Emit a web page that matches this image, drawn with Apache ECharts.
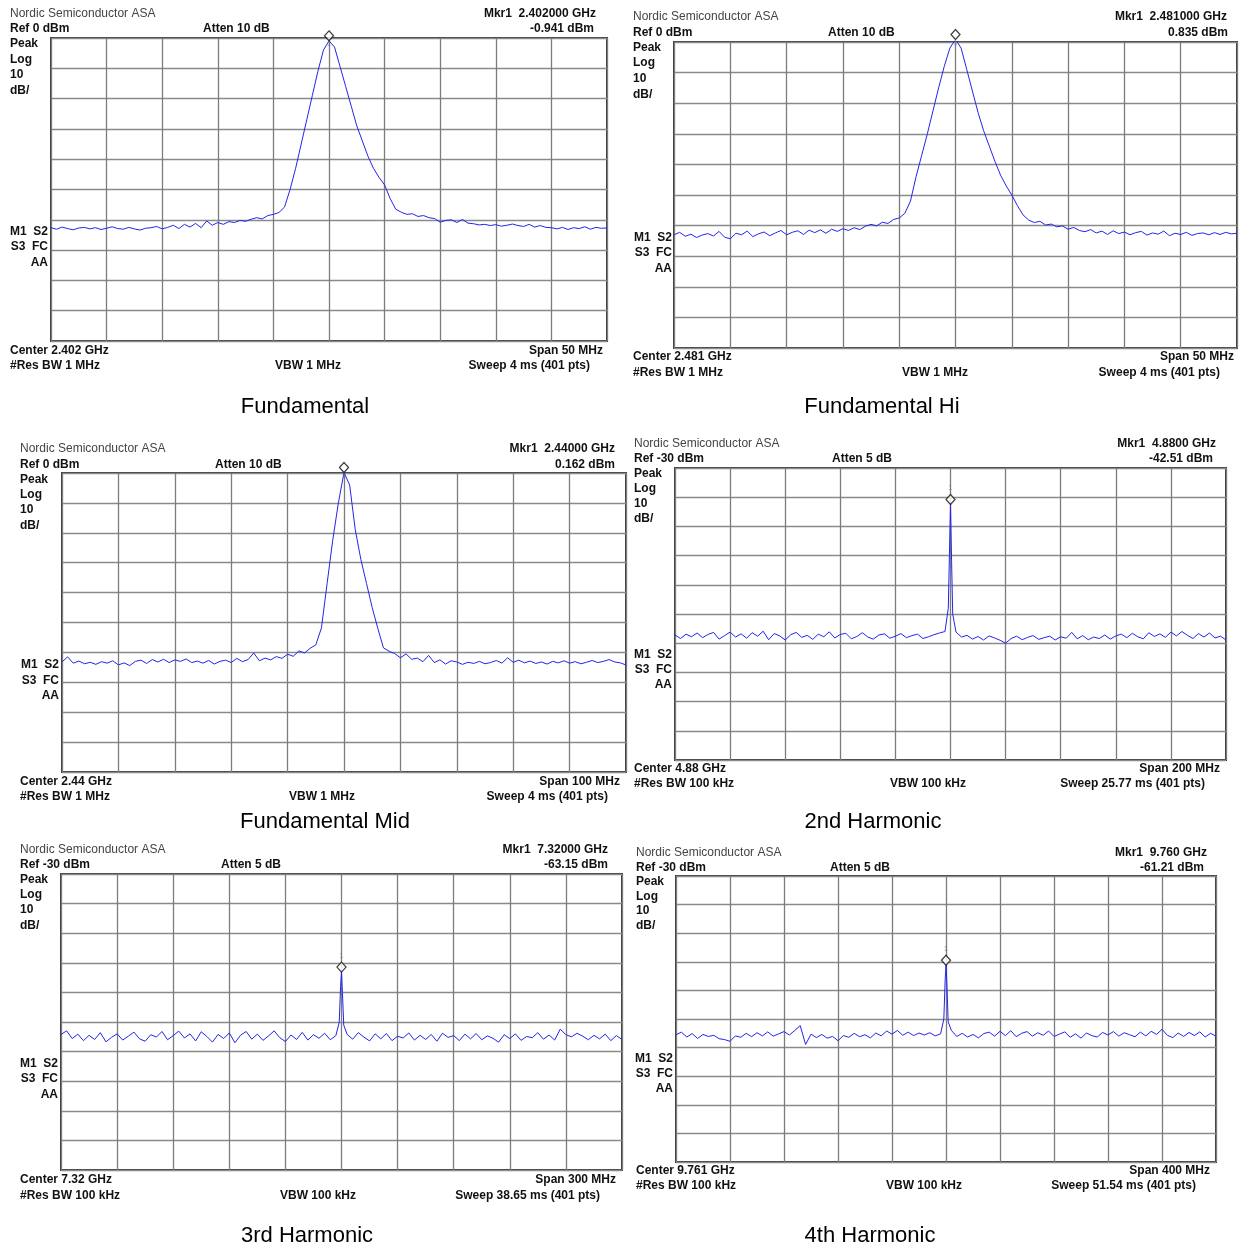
<!DOCTYPE html>
<html><head><meta charset="utf-8">
<script src="https://cdn.jsdelivr.net/npm/echarts@6/dist/echarts.min.js"></script>
<style>html,body{margin:0;padding:0;background:#fff;}#chart{width:1239px;height:1247px;}</style>
</head><body><div id="chart"></div>
<script>
// ---------- DATA ----------
const panelTitles = ['Fundamental','Fundamental Hi','Fundamental Mid','2nd Harmonic','3rd Harmonic','4th Harmonic'];
const companyLabel = 'Nordic Semiconductor ASA';
const refLevels = [0, 0, 0, -30, -30, -30];
const refLabels = ['Ref 0 dBm','Ref 0 dBm','Ref 0 dBm','Ref -30 dBm','Ref -30 dBm','Ref -30 dBm'];
const attenLabels = ['Atten 10 dB','Atten 10 dB','Atten 10 dB','Atten 5 dB','Atten 5 dB','Atten 5 dB'];
const markerFreqLabels = ['Mkr1  2.402000 GHz','Mkr1  2.481000 GHz','Mkr1  2.44000 GHz','Mkr1  4.8800 GHz','Mkr1  7.32000 GHz','Mkr1  9.760 GHz'];
const markerLevels = [-0.941, 0.835, 0.162, -42.51, -63.15, -61.21];
const markerLevelLabels = ['-0.941 dBm','0.835 dBm','0.162 dBm','-42.51 dBm','-63.15 dBm','-61.21 dBm'];
const leftLabels = ['Peak','Log','10','dB/'];
const statusLabels = ['M1  S2','S3  FC','AA'];
const centerLabels = ['Center 2.402 GHz','Center 2.481 GHz','Center 2.44 GHz','Center 4.88 GHz','Center 7.32 GHz','Center 9.761 GHz'];
const spansMHz = [50, 50, 100, 200, 300, 400];
const spanLabels = ['Span 50 MHz','Span 50 MHz','Span 100 MHz','Span 200 MHz','Span 300 MHz','Span 400 MHz'];
const rbwLabels = ['#Res BW 1 MHz','#Res BW 1 MHz','#Res BW 1 MHz','#Res BW 100 kHz','#Res BW 100 kHz','#Res BW 100 kHz'];
const vbwLabels = ['VBW 1 MHz','VBW 1 MHz','VBW 1 MHz','VBW 100 kHz','VBW 100 kHz','VBW 100 kHz'];
const sweepLabels = ['Sweep 4 ms (401 pts)','Sweep 4 ms (401 pts)','Sweep 4 ms (401 pts)','Sweep 25.77 ms (401 pts)','Sweep 38.65 ms (401 pts)','Sweep 51.54 ms (401 pts)'];
const dbPerDiv = 10;

// trace levels (dBm), 101 points evenly across the span
const traceFundamental = [-62.6,-63.1,-62.4,-62.9,-63.3,-62.7,-62.5,-63.0,-62.6,-63.2,-62.8,-62.3,-62.9,-63.1,-62.5,-63.0,-63.4,-62.8,-62.6,-62.2,-63.0,-62.5,-61.8,-62.9,-61.5,-62.4,-61.2,-62.6,-60.4,-61.8,-60.9,-61.5,-60.6,-60.9,-60.2,-60.5,-59.8,-59.3,-59.7,-58.6,-58.2,-57.6,-55.8,-50,-43,-35,-27,-19,-11,-4,-0.941,-3,-9.5,-16,-22.5,-29,-34,-39,-43,-46,-48.5,-53,-56.5,-57.5,-58.2,-58.0,-58.9,-58.6,-59.3,-59.6,-60.8,-60.2,-60.0,-60.9,-59.9,-61.1,-61.3,-61.7,-61.5,-61.9,-61.6,-62.1,-61.8,-61.4,-61.9,-62.2,-61.5,-62.4,-61.9,-62.5,-62.6,-63.0,-62.5,-63.2,-62.6,-62.9,-62.3,-63.1,-62.5,-62.8,-62.7];
const traceFundamentalHi = [-63.0,-62.2,-63.5,-62.8,-63.9,-63.1,-62.6,-63.4,-61.9,-63.8,-64.3,-62.5,-63.0,-61.8,-63.6,-62.7,-62.1,-63.3,-62.4,-61.6,-63.0,-62.2,-61.7,-62.9,-61.5,-62.3,-61.4,-62.5,-61.2,-61.9,-61.0,-61.6,-60.7,-61.3,-60.2,-59.6,-60.1,-58.9,-59.3,-58.0,-57.5,-56.0,-52,-44,-37,-30,-22.5,-15,-8,-2,0.835,-2,-9,-16,-23,-29,-34,-39,-43.5,-47,-50,-53.5,-56.5,-58.2,-59.0,-58.6,-59.8,-59.5,-60.4,-60.1,-61.2,-60.6,-61.6,-62.0,-61.3,-62.4,-61.8,-62.9,-61.7,-62.6,-62.1,-63.0,-62.3,-61.9,-63.1,-62.4,-62.8,-61.8,-63.3,-62.5,-62.9,-62.2,-63.2,-62.6,-62.4,-63.0,-62.3,-62.9,-62.2,-62.7,-62.5];
const traceFundamentalMid = [-63.2,-61.5,-63.6,-62.9,-63.8,-63.3,-64.0,-63.1,-63.6,-62.8,-64.2,-63.5,-64.4,-63.0,-62.6,-63.7,-62.4,-63.2,-62.3,-63.4,-62.5,-63.0,-62.2,-63.4,-62.9,-63.6,-62.7,-63.9,-63.0,-62.6,-63.4,-62.0,-63.1,-62.4,-60.2,-62.8,-61.9,-62.5,-61.4,-62.0,-60.6,-61.3,-59.5,-60.2,-58.6,-57.5,-51.8,-37,-22.5,-10,0.162,-4,-19,-29,-37,-45,-52,-58.5,-59.6,-60.4,-61.8,-60.5,-62.3,-61.9,-63.1,-61.0,-63.4,-62.5,-63.9,-62.8,-63.2,-64.0,-63.3,-63.7,-63.0,-63.8,-63.4,-62.7,-63.6,-61.8,-63.3,-62.6,-63.5,-62.9,-63.7,-63.2,-63.9,-63.0,-63.5,-62.8,-63.6,-63.1,-63.8,-63.3,-62.7,-63.4,-63.0,-62.4,-63.2,-63.5,-64.2];
const trace2ndHarmonic = [-87.2,-88.4,-86.9,-87.8,-86.5,-88.1,-87.0,-86.3,-88.6,-87.4,-86.2,-87.9,-86.8,-88.3,-86.4,-87.6,-85.9,-88.8,-86.7,-87.5,-88.9,-87.1,-86.3,-88.0,-87.3,-88.7,-86.9,-87.8,-86.1,-88.2,-87.0,-86.6,-88.5,-87.7,-86.4,-87.9,-88.6,-87.2,-86.8,-88.3,-87.6,-86.7,-88.1,-87.4,-86.9,-88.4,-87.8,-87.1,-86.5,-86.0,-42.51,-86.2,-87.9,-87.3,-88.6,-87.7,-88.9,-87.5,-88.2,-89.0,-90.0,-88.4,-87.6,-88.8,-88.0,-87.4,-88.7,-88.1,-87.6,-88.9,-87.8,-88.3,-86.3,-88.5,-87.4,-88.8,-87.9,-88.4,-87.2,-88.6,-87.5,-86.9,-88.1,-86.6,-87.8,-88.5,-86.4,-87.7,-86.8,-88.0,-86.2,-87.5,-86.0,-87.3,-88.4,-86.7,-87.9,-86.5,-88.2,-87.6,-88.9];
const trace3rdHarmonic = [-84.2,-83.0,-85.6,-84.1,-86.3,-84.5,-85.9,-83.6,-86.7,-85.2,-84.0,-86.1,-84.8,-83.4,-85.7,-86.5,-84.3,-85.1,-83.2,-86.0,-84.6,-83.1,-85.4,-84.0,-86.4,-83.3,-84.9,-86.8,-84.2,-85.6,-83.7,-87.0,-84.5,-83.2,-85.8,-84.1,-86.2,-84.7,-83.0,-85.3,-86.6,-84.4,-85.9,-83.5,-86.1,-84.3,-85.5,-83.8,-86.0,-84.6,-63.15,-84.2,-85.8,-83.6,-85.1,-86.4,-84.0,-85.7,-83.9,-86.3,-84.8,-85.4,-83.7,-86.1,-84.5,-85.9,-84.2,-86.5,-83.8,-85.2,-84.6,-86.3,-84.1,-85.7,-83.9,-86.0,-84.7,-85.5,-86.8,-84.3,-85.6,-84.0,-86.2,-84.9,-85.3,-83.6,-85.8,-84.4,-86.1,-82.4,-84.3,-85.0,-83.8,-84.8,-86.0,-84.5,-85.7,-84.1,-86.3,-84.6,-85.9];
const trace4thHarmonic = [-85.5,-84.6,-86.3,-85.1,-86.8,-85.4,-86.1,-85.7,-86.9,-87.2,-87.8,-85.9,-86.4,-85.0,-86.2,-84.8,-85.9,-84.5,-86.0,-85.2,-84.4,-85.6,-84.0,-82.3,-88.9,-85.3,-86.5,-85.4,-86.7,-86.1,-87.6,-85.8,-86.4,-85.0,-86.2,-85.5,-86.6,-84.9,-85.9,-84.2,-85.3,-84.0,-85.7,-84.6,-85.8,-84.9,-85.6,-84.8,-85.9,-85.2,-61.21,-84.0,-86.1,-85.0,-86.3,-85.4,-86.6,-85.1,-84.6,-86.0,-84.3,-85.8,-84.1,-86.2,-85.0,-84.4,-86.0,-84.8,-85.7,-84.2,-86.1,-85.3,-84.5,-86.4,-85.2,-86.7,-84.9,-85.8,-86.3,-84.7,-85.6,-84.4,-86.0,-84.8,-85.5,-86.2,-84.6,-85.9,-84.3,-85.4,-83.6,-85.7,-86.5,-84.9,-86.1,-84.7,-85.8,-84.5,-86.3,-85.0,-86.0];

// narrow harmonic spikes: offsets from center (MHz) and levels (dBm)
const spike2ndOffsets = [-0.8, -0.4, 0, 0.4, 0.8];
const spike2ndLevels  = [-78, -60, -42.51, -62, -80];
const spike3rdOffsets = [-1.2, -0.5, 0, 0.5, 1.2];
const spike3rdLevels  = [-80, -68, -63.15, -70, -81];
const spike4thOffsets = [-1.6, -0.6, 0, 0.6, 1.6];
const spike4thLevels  = [-80, -66, -61.21, -67, -81];

const traces = [traceFundamental, traceFundamentalHi, traceFundamentalMid, trace2ndHarmonic, trace3rdHarmonic, trace4thHarmonic];
const spikeOffsets = [null, null, null, spike2ndOffsets, spike3rdOffsets, spike4thOffsets];
const spikeLevels  = [null, null, null, spike2ndLevels, spike3rdLevels, spike4thLevels];

// ---------- LAYOUT (styles / positions) ----------
const layout = [
  {l:51, t:38, w:556, h:303, tx:10, nY:14, rY:29, aX:203, mkX:596, dbX:594, lY:[44,60,75,91], sX:48, sY:[232,247,263], cY:351, bY:366, vX:275, spX:603, swX:590, capX:305, capY:407, up:false},
  {l:674, t:42, w:563, h:306, tx:633, nY:17, rY:33, aX:828, mkX:1227, dbX:1228, lY:[48,63,79,95], sX:672, sY:[238,253,269], cY:357, bY:373, vX:902, spX:1234, swX:1220, capX:882, capY:407, up:false},
  {l:62, t:473, w:564, h:299, tx:20, nY:449, rY:465, aX:215, mkX:615, dbX:615, lY:[480,495,510,526], sX:59, sY:[665,681,696], cY:782, bY:797, vX:289, spX:620, swX:608, capX:325, capY:822, up:false},
  {l:675, t:468, w:551, h:292, tx:634, nY:444, rY:459, aX:832, mkX:1216, dbX:1213, lY:[474,489,504,519], sX:672, sY:[655,670,685], cY:769, bY:784, vX:890, spX:1220, swX:1205, capX:873, capY:822, up:true},
  {l:61, t:874, w:561, h:296, tx:20, nY:850, rY:865, aX:221, mkX:608, dbX:608, lY:[880,895,910,926], sX:58, sY:[1064,1079,1095], cY:1180, bY:1196, vX:280, spX:616, swX:600, capX:307, capY:1236, up:true},
  {l:676, t:876, w:540, h:286, tx:636, nY:853, rY:868, aX:830, mkX:1207, dbX:1204, lY:[882,897,911,926], sX:673, sY:[1059,1074,1089], cY:1171, bY:1186, vX:886, spX:1210, swX:1196, capX:870, capY:1236, up:true}
];

function buildTrace(levels, span, offs, lvls) {
  const n = levels.length, mid = (n - 1) / 2, pts = [];
  for (let i = 0; i < n; i++) {
    if (offs && i === mid) continue;
    pts.push([-span / 2 + i * span / (n - 1), levels[i]]);
  }
  if (offs) offs.forEach((o, k) => pts.push([o, lvls[k]]));
  pts.sort((a, b) => a[0] - b[0]);
  return pts;
}

const BOLD = 'bold 12px "Liberation Sans", Arial, sans-serif';
const NORM = '12px "Liberation Sans", Arial, sans-serif';
const CAP = '22px "Liberation Sans", Arial, sans-serif';
const grids = [], xAxes = [], yAxes = [], series = [], graphics = [];
function txt(text, x, y, font, align, fill) {
  graphics.push({type:'text', silent:true, style:{text, x, y, font, align: align || 'left', verticalAlign:'middle', fill: fill || '#111'}});
}

layout.forEach((L, p) => {
  grids.push({left:L.l, top:L.t, width:L.w, height:L.h, show:true, borderColor:'#3c3c3c', borderWidth:2, backgroundColor:'#fff'});
  const half = spansMHz[p] / 2;
  xAxes.push({type:'value', gridIndex:p, min:-half, max:half, interval:spansMHz[p] / 10,
    axisLine:{show:false}, axisTick:{show:false}, axisLabel:{show:false},
    splitLine:{show:true, lineStyle:{color:'#7c7c7c', width:1.3}}});
  yAxes.push({type:'value', gridIndex:p, min:refLevels[p] - 10 * dbPerDiv, max:refLevels[p], interval:dbPerDiv,
    axisLine:{show:false}, axisTick:{show:false}, axisLabel:{show:false},
    splitLine:{show:true, lineStyle:{color:'#8a8a8a', width:1.3}}});
  series.push({type:'line', xAxisIndex:p, yAxisIndex:p, showSymbol:false, symbol:'none', clip:true,
    lineStyle:{color:'#2424ec', width:1}, data: buildTrace(traces[p], spansMHz[p], spikeOffsets[p], spikeLevels[p]), z:3, animation:false});
  series.push({type:'scatter', xAxisIndex:p, yAxisIndex:p, clip:false, symbol:'diamond', symbolSize:[9,10], symbolOffset:[0,-5],
    itemStyle:{color:'#fff', borderColor:'#111', borderWidth:1.3}, z:5, animation:false,
    label:{show:true, formatter:'1', fontSize:7, color:'#777', position: L.up ? 'top' : 'bottom', distance: L.up ? 2 : -1},
    data:[[0, markerLevels[p]]]});

  txt(companyLabel, L.tx, L.nY, NORM, 'left', '#444');
  txt(refLabels[p], L.tx, L.rY, BOLD);
  txt(attenLabels[p], L.aX, L.rY, BOLD);
  txt(markerFreqLabels[p], L.mkX, L.nY, BOLD, 'right');
  txt(markerLevelLabels[p], L.dbX, L.rY, BOLD, 'right');
  leftLabels.forEach((s, k) => txt(s, L.tx, L.lY[k], BOLD));
  statusLabels.forEach((s, k) => txt(s, L.sX, L.sY[k], BOLD, 'right'));
  txt(centerLabels[p], L.tx, L.cY, BOLD);
  txt(rbwLabels[p], L.tx, L.bY, BOLD);
  txt(vbwLabels[p], L.vX, L.bY, BOLD);
  txt(spanLabels[p], L.spX, L.cY, BOLD, 'right');
  txt(sweepLabels[p], L.swX, L.bY, BOLD, 'right');
  txt(panelTitles[p], L.capX, L.capY, CAP, 'center', '#000');
});

const chart = echarts.init(document.getElementById('chart'), null, {renderer:'canvas'});
chart.setOption({
  backgroundColor:'#fff', animation:false,
  grid:grids, xAxis:xAxes, yAxis:yAxes, series:series, graphic:graphics
});
</script></body></html>
